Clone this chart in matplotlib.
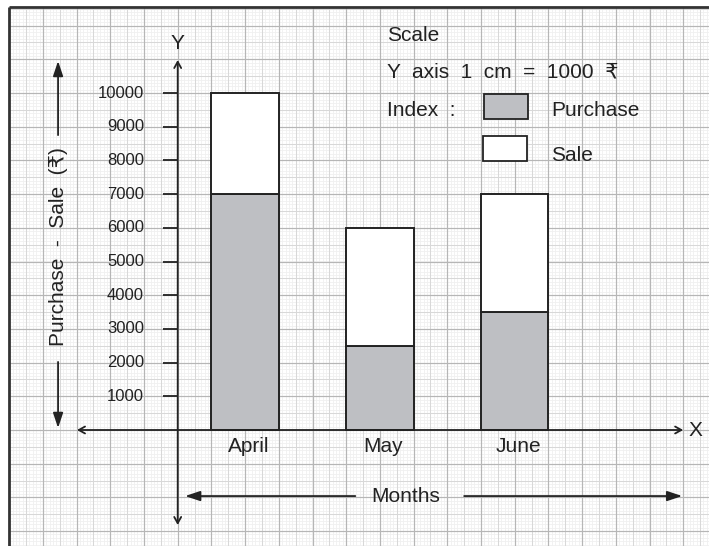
import numpy as np
import matplotlib.pyplot as plt
from matplotlib.patches import Rectangle

plt.rcParams['font.family'] = ['Liberation Sans', 'DejaVu Sans']

# data
months = ['April', 'May', 'June']
purchase = [7000, 2500, 3500]
sale_total = [10000, 6000, 7000]
sale = [t - p for t, p in zip(sale_total, purchase)]
ticks = list(range(1000, 11000, 1000))

# x positions in cm from the Y axis, y in rupees (1 cm = 1000)
xpos = np.array([2, 6, 10])
unit = 1000

fig = plt.figure(figsize=(7.09, 5.46), dpi=100)
ax = fig.add_axes([0, 0, 1, 1])
ax.set_xlim(-177.7 / 33.7, (709 - 177.7) / 33.7)
ax.set_ylim(-(546 - 430) / 33.7 * unit, 430 / 33.7 * unit)
ax.axis('off')

# graph paper
x0, x1 = -5.0, 16.0
y0, y1 = -3.6, 12.55
for step, col, lw in [(0.1, '#f0f0f0', 0.6), (0.5, '#d8d8d8', 0.75), (1.0, '#b6b6b6', 0.85)]:
    xs = np.arange(x0, x1 + 1e-9, step)
    ys = np.arange(np.floor(y0), y1 + 1e-9, step)
    ys = ys[ys >= y0]
    ax.vlines(xs, y0 * unit, y1 * unit, colors=col, lw=lw, zorder=0)
    ax.hlines(ys * unit, x0, x1, colors=col, lw=lw, zorder=0)
ax.plot([x0, x0], [y0 * unit, y1 * unit], color='#333333', lw=2, zorder=5, solid_capstyle='butt')
ax.plot([x0, x1], [y1 * unit, y1 * unit], color='#333333', lw=2, zorder=5, solid_capstyle='butt')

# bars
ax.bar(xpos, purchase, width=2, color='#bebfc3', edgecolor='#222222', lw=1.4, zorder=2)
ax.bar(xpos, sale, width=2, bottom=purchase, color='white', edgecolor='#222222', lw=1.4, zorder=2)

# axes
open_arrow = dict(arrowstyle='<->,head_length=0.45,head_width=0.25', color='#222222', lw=1.3,
                  shrinkA=0, shrinkB=0)
ax.annotate('', xy=(-2.99, 0), xytext=(15.0, 0), arrowprops=open_arrow, zorder=4)
ax.annotate('', xy=(0, -2.82 * unit), xytext=(0, 10.98 * unit), arrowprops=open_arrow, zorder=4)
ax.text(15.15, 0, 'X', fontsize=15, ha='left', va='center', color='#222222')
ax.text(0, 11.48 * unit, 'Y', fontsize=15, ha='center', va='center', color='#222222')

# y ticks
ax.hlines(ticks, -0.44, 0, colors='#222222', lw=1.3, zorder=4)
for t in ticks:
    ax.text(-1.0, t, str(t), fontsize=12, ha='right', va='center', color='#222222')

# month labels
for x, m in zip(xpos, months):
    ax.text(x + 0.1, -0.5 * unit, m, fontsize=15, ha='center', va='center', color='#222222')

# axis titles with arrows
fill_arrow = dict(arrowstyle='-|>,head_length=0.9,head_width=0.3', color='#222222', lw=1.3,
                  shrinkA=0, shrinkB=0)
ax.annotate('', xy=(-3.55, 10.95 * unit), xytext=(-3.55, 8.75 * unit), arrowprops=fill_arrow)
ax.annotate('', xy=(-3.55, 0.06 * unit), xytext=(-3.55, 2.02 * unit), arrowprops=fill_arrow)
ax.text(-3.55, 5.43 * unit, 'Purchase  -  Sale  (₹)', fontsize=15, rotation=90,
        ha='center', va='center', color='#222222')
ax.annotate('', xy=(0.22, -1.96 * unit), xytext=(5.27, -1.96 * unit), arrowprops=fill_arrow)
ax.annotate('', xy=(14.97, -1.96 * unit), xytext=(8.5, -1.96 * unit), arrowprops=fill_arrow)
ax.text(6.78, -1.96 * unit, 'Months', fontsize=15, ha='center', va='center', color='#222222')

# scale and index
ax.text(6.21, 11.72 * unit, 'Scale', fontsize=15, ha='left', va='center', color='#222222')
ax.text(6.21, 10.62 * unit, 'Y  axis  1  cm  =  1000  ₹', fontsize=15, ha='left', va='center',
        color='#222222')
ax.text(6.21, 9.47 * unit, 'Index  :', fontsize=15, ha='left', va='center', color='#222222')
ax.add_patch(Rectangle((9.09, 9.23 * unit), 1.31, 0.74 * unit, facecolor='#bebfc3',
                       edgecolor='#222222', lw=1.3, zorder=3))
ax.add_patch(Rectangle((9.06, 7.98 * unit), 1.31, 0.74 * unit, facecolor='white',
                       edgecolor='#222222', lw=1.3, zorder=3))
ax.text(11.08, 9.47 * unit, 'Purchase', fontsize=15, ha='left', va='center', color='#222222')
ax.text(11.08, 8.16 * unit, 'Sale', fontsize=15, ha='left', va='center', color='#222222')

fig.savefig('out.png', dpi=100)
